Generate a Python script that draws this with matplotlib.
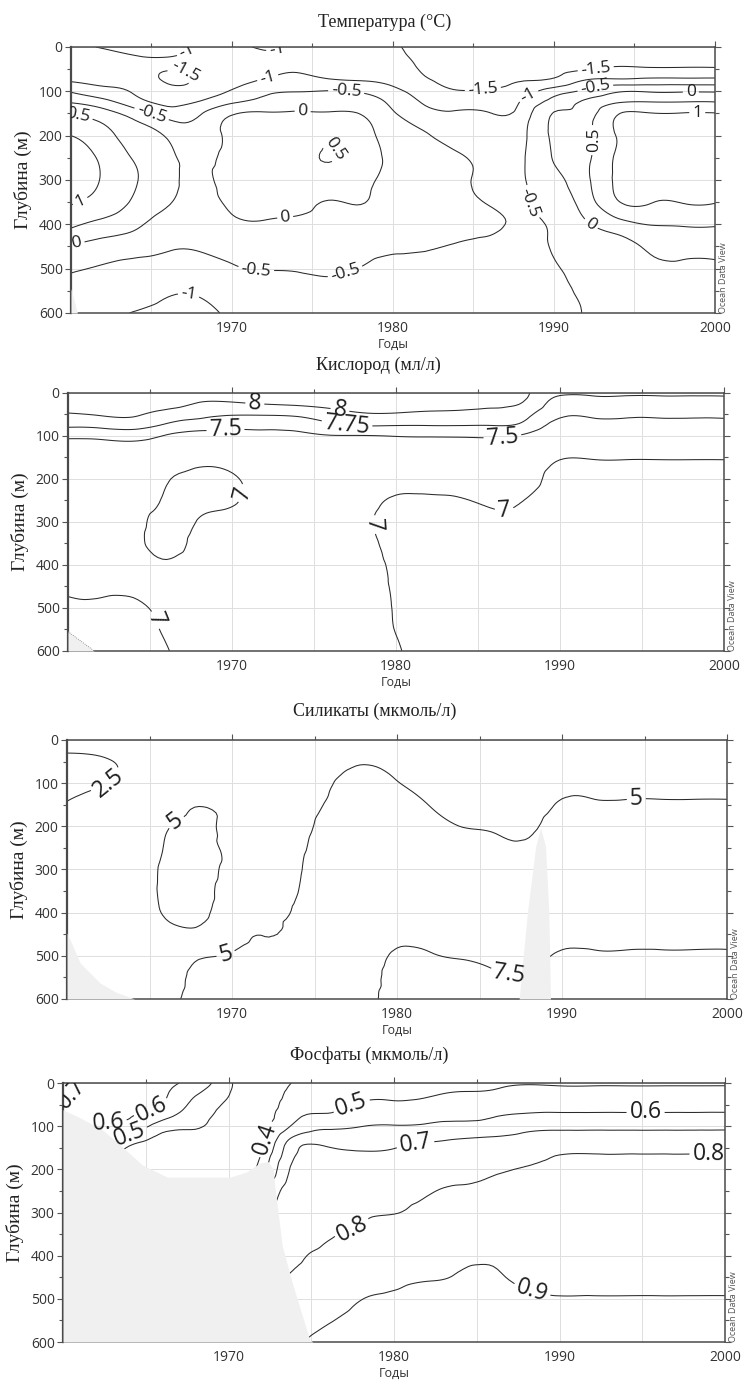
import numpy as np
import matplotlib
matplotlib.use("Agg")
import matplotlib.pyplot as plt
import matplotlib.tri as mtri
import matplotlib.transforms as mtransforms
from matplotlib.ticker import MultipleLocator, FixedLocator

plt.rcParams['font.family'] = ['Open Sans', 'DejaVu Sans']

nan = float('nan')

# grid nodes
years = list(range(1960, 2001, 2))
depths = [0, 25, 50, 75, 100, 125, 150, 200, 250, 300, 350, 400, 450, 500, 550, 600]

# one profile (0..600 m) per year, 1960..2000 step 2
temp_profiles = [
    [-1.1, -1.15, -1.15, -1.05, -0.55, -0.02, 0.45, 1.0, 1.3, 1.35, 1.05, 0.6, -0.05, -0.45, -0.65, -0.8],
    [-0.97, -1.15, -1.2, -1.1, -0.85, -0.3, 0.2, 0.7, 0.9, 0.95, 0.8, 0.35, -0.2, -0.55, -0.75, -0.9],
    [-0.88, -1.05, -1.25, -1.2, -1.05, -0.8, -0.25, 0.25, 0.45, 0.53, 0.42, 0.1, -0.3, -0.65, -0.82, -1.02],
    [-0.85, -1.03, -1.45, -1.55, -1.35, -1.1, -0.75, -0.05, 0.12, 0.15, 0.05, -0.25, -0.45, -0.7, -0.95, -1.1],
    [-1.02, -1.2, -1.4, -1.45, -1.3, -0.95, -0.55, -0.3, -0.15, -0.1, -0.15, -0.3, -0.45, -0.7, -0.95, -1.08],
    [-1.1, -1.25, -1.35, -1.25, -0.95, -0.55, -0.05, 0.15, 0.2, 0.2, 0.1, -0.1, -0.35, -0.55, -0.8, -0.95],
    [-0.95, -1.1, -1.15, -0.95, -0.6, -0.35, 0.05, 0.2, 0.3, 0.3, 0.2, -0.05, -0.3, -0.48, -0.7, -0.88],
    [-1.05, -1.15, -1.05, -0.85, -0.52, -0.2, 0.05, 0.25, 0.35, 0.35, 0.15, -0.1, -0.3, -0.47, -0.7, -0.85],
    [-1.15, -1.2, -1.15, -0.95, -0.48, -0.25, 0.05, 0.45, 0.52, 0.3, -0.02, -0.15, -0.35, -0.45, -0.62, -0.85],
    [-1.3, -1.3, -1.2, -1.02, -0.55, -0.3, -0.02, 0.2, 0.25, 0.15, 0.02, -0.2, -0.4, -0.51, -0.7, -0.85],
    [-1.45, -1.4, -1.3, -1.15, -0.85, -0.6, -0.45, -0.2, -0.1, -0.15, -0.25, -0.35, -0.45, -0.6, -0.72, -0.85],
    [-1.65, -1.6, -1.55, -1.45, -1.25, -1.05, -0.85, -0.45, -0.3, -0.3, -0.35, -0.4, -0.48, -0.6, -0.75, -0.85],
    [-1.75, -1.7, -1.65, -1.6, -1.48, -1.2, -0.95, -0.75, -0.42, -0.42, -0.4, -0.42, -0.52, -0.65, -0.75, -0.85],
    [-1.8, -1.75, -1.7, -1.62, -1.47, -1.3, -0.98, -0.85, -0.7, -0.6, -0.52, -0.46, -0.55, -0.65, -0.75, -0.85],
    [-1.8, -1.75, -1.65, -1.52, -1.25, -0.95, -0.8, -0.62, -0.56, -0.54, -0.53, -0.55, -0.6, -0.68, -0.75, -0.85],
    [-1.7, -1.65, -1.6, -1.42, -0.75, -0.3, 0.02, 0.08, 0.03, -0.15, -0.3, -0.42, -0.45, -0.57, -0.7, -0.8],
    [-1.6, -1.57, -1.52, -0.98, -0.4, 0.1, 0.25, 0.35, 0.4, 0.4, 0.25, -0.05, -0.2, -0.3, -0.38, -0.45],
    [-1.65, -1.6, -1.45, -0.9, -0.05, 0.48, 0.98, 1.05, 1.1, 1.1, 0.98, 0.3, -0.2, -0.3, -0.35, -0.4],
    [-1.7, -1.65, -1.45, -0.85, -0.05, 0.52, 1.02, 1.1, 1.15, 1.15, 1.02, 0.52, 0.1, -0.12, -0.22, -0.3],
    [-1.7, -1.65, -1.45, -0.85, -0.05, 0.52, 1.02, 1.1, 1.15, 1.15, 1.02, 0.55, 0.15, -0.08, -0.2, -0.28],
    [-1.7, -1.65, -1.45, -0.85, -0.05, 0.52, 1.02, 1.1, 1.15, 1.15, 1.02, 0.55, 0.15, -0.08, -0.2, -0.28],
]

oxygen_profiles = [
    [8.25, 8.15, 7.98, 7.8, 7.55, 7.4, 7.3, 7.2, 7.15, 7.12, 7.1, 7.06, 7.03, 6.96, 6.93, 6.9],
    [8.25, 8.15, 8.02, 7.82, 7.57, 7.4, 7.3, 7.2, 7.15, 7.12, 7.1, 7.06, 7.03, 6.97, 6.93, 6.9],
    [8.25, 8.15, 8.03, 7.85, 7.6, 7.42, 7.3, 7.18, 7.1, 7.06, 7.05, 7.05, 7.03, 6.97, 6.93, 6.9],
    [8.25, 8.12, 7.9, 7.72, 7.48, 7.35, 7.22, 7.02, 6.98, 6.95, 6.95, 7.02, 7.06, 7.04, 7.02, 6.99],
    [8.2, 7.98, 7.82, 7.62, 7.4, 7.25, 7.1, 6.94, 6.95, 7.01, 7.05, 7.08, 7.1, 7.08, 7.06, 7.05],
    [8.2, 7.97, 7.77, 7.55, 7.45, 7.3, 7.15, 6.97, 6.98, 7.05, 7.08, 7.1, 7.12, 7.12, 7.1, 7.08],
    [8.2, 8.01, 7.77, 7.56, 7.44, 7.32, 7.22, 7.1, 7.08, 7.08, 7.1, 7.12, 7.14, 7.14, 7.12, 7.1],
    [8.22, 8.04, 7.8, 7.58, 7.45, 7.32, 7.22, 7.12, 7.1, 7.1, 7.1, 7.12, 7.14, 7.14, 7.12, 7.1],
    [8.22, 8.08, 7.9, 7.7, 7.49, 7.38, 7.25, 7.12, 7.1, 7.08, 7.08, 7.08, 7.1, 7.1, 7.1, 7.1],
    [8.2, 8.1, 7.98, 7.77, 7.49, 7.35, 7.25, 7.12, 7.06, 7.03, 7.05, 7.08, 7.1, 7.12, 7.14, 7.16],
    [8.2, 8.1, 7.98, 7.76, 7.51, 7.35, 7.25, 7.08, 6.98, 6.95, 6.95, 6.96, 6.97, 6.98, 6.99, 7.03],
    [8.18, 8.08, 7.96, 7.76, 7.52, 7.35, 7.22, 7.06, 6.98, 6.95, 6.93, 6.92, 6.92, 6.92, 6.93, 6.95],
    [8.16, 8.07, 7.95, 7.76, 7.52, 7.4, 7.25, 7.08, 6.99, 6.95, 6.92, 6.9, 6.9, 6.9, 6.9, 6.9],
    [8.14, 8.05, 7.93, 7.76, 7.53, 7.42, 7.28, 7.12, 7.03, 6.97, 6.93, 6.9, 6.9, 6.9, 6.9, 6.9],
    [8.02, 7.95, 7.8, 7.67, 7.45, 7.33, 7.22, 7.08, 6.99, 6.95, 6.92, 6.9, 6.9, 6.9, 6.9, 6.9],
    [7.82, 7.62, 7.54, 7.4, 7.28, 7.15, 7.02, 6.92, 6.9, 6.88, 6.88, 6.88, 6.88, 6.88, 6.88, 6.88],
    [7.82, 7.62, 7.54, 7.4, 7.28, 7.15, 7.02, 6.92, 6.9, 6.88, 6.88, 6.88, 6.88, 6.88, 6.88, 6.88],
    [7.82, 7.62, 7.54, 7.4, 7.28, 7.15, 7.02, 6.92, 6.9, 6.88, 6.88, 6.88, 6.88, 6.88, 6.88, 6.88],
    [7.82, 7.62, 7.54, 7.4, 7.28, 7.15, 7.02, 6.92, 6.9, 6.88, 6.88, 6.88, 6.88, 6.88, 6.88, 6.88],
    [7.82, 7.62, 7.54, 7.4, 7.28, 7.15, 7.02, 6.92, 6.9, 6.88, 6.88, 6.88, 6.88, 6.88, 6.88, 6.88],
    [7.82, 7.62, 7.54, 7.4, 7.28, 7.15, 7.02, 6.92, 6.9, 6.88, 6.88, 6.88, 6.88, 6.88, 6.88, 6.88],
]

silicate_profiles = [
    [2.9, 2.6, 2.2, 2.1, 2.15, 2.3, 2.6, 3.2, 3.8, 4.2, 4.4, 4.5, 4.6, 4.7, 4.8, 4.9],
    [3.0, 2.7, 2.35, 2.3, 2.4, 2.7, 3.0, 3.5, 3.9, 4.2, 4.4, 4.5, 4.6, 4.7, 4.8, 4.9],
    [3.1, 2.9, 2.7, 2.65, 2.7, 2.9, 3.2, 3.7, 4.1, 4.4, 4.6, 4.7, 4.75, 4.8, 4.85, 4.9],
    [3.2, 3.0, 2.85, 2.8, 2.85, 3.1, 3.5, 4.85, 5.1, 5.2, 5.15, 5.05, 4.9, 4.85, 4.85, 4.9],
    [3.3, 3.1, 3.0, 3.0, 3.2, 3.6, 4.9, 5.3, 5.35, 5.3, 5.2, 5.1, 4.95, 4.98, 5.1, 5.2],
    [3.4, 3.2, 3.1, 3.1, 3.3, 3.7, 4.2, 4.7, 4.85, 4.9, 4.9, 4.9, 4.93, 5.02, 5.15, 5.3],
    [3.5, 3.3, 3.2, 3.25, 3.4, 3.8, 4.2, 4.6, 4.8, 4.85, 4.9, 4.95, 4.99, 5.1, 5.3, 5.5],
    [3.6, 3.4, 3.35, 3.4, 3.6, 3.9, 4.3, 4.7, 4.85, 4.92, 4.99, 5.15, 5.35, 5.6, 5.8, 6.0],
    [3.8, 4.0, 4.3, 4.6, 4.9, 5.1, 5.3, 5.6, 5.8, 6.0, 6.2, 6.4, 6.6, 6.8, 7.0, 7.2],
    [4.2, 4.5, 4.9, 5.2, 5.5, 5.8, 6.0, 6.3, 6.5, 6.7, 6.9, 7.0, 7.1, 7.2, 7.3, 7.4],
    [4.0, 4.3, 4.6, 4.85, 5.05, 5.3, 5.5, 5.9, 6.2, 6.5, 6.8, 7.05, 7.3, 7.6, 7.75, 7.85],
    [3.8, 4.0, 4.2, 4.4, 4.6, 4.8, 4.97, 5.4, 5.8, 6.2, 6.6, 6.95, 7.25, 7.55, 7.75, 7.85],
    [3.7, 3.9, 4.05, 4.2, 4.35, 4.5, 4.65, 4.98, 5.4, 5.8, 6.3, 6.8, 7.15, 7.45, 7.7, 7.85],
    [3.7, 3.85, 4.0, 4.1, 4.25, 4.4, 4.55, 4.85, 5.3, 5.7, 6.2, 6.7, 7.05, 7.3, 7.58, 7.75],
    [3.7, 3.85, 4.0, 4.1, 4.2, 4.35, 4.5, 4.8, 5.2, 5.6, 6.1, 6.6, 7.0, 7.28, 7.55, 7.7],
    [3.9, 4.1, 4.3, 4.5, 4.7, 4.9, 5.1, 5.5, 5.9, 6.3, 6.7, 6.95, 7.2, 7.6, 7.75, 7.85],
    [3.9, 4.1, 4.3, 4.5, 4.7, 4.9, 5.1, 5.5, 5.9, 6.3, 6.7, 6.95, 7.2, 7.6, 7.75, 7.85],
    [3.9, 4.1, 4.3, 4.5, 4.7, 4.9, 5.1, 5.5, 5.9, 6.3, 6.7, 6.95, 7.2, 7.6, 7.75, 7.85],
    [3.9, 4.1, 4.3, 4.5, 4.7, 4.9, 5.1, 5.5, 5.9, 6.3, 6.7, 6.95, 7.2, 7.6, 7.75, 7.85],
    [3.9, 4.1, 4.3, 4.5, 4.7, 4.9, 5.1, 5.5, 5.9, 6.3, 6.7, 6.95, 7.2, 7.6, 7.75, 7.85],
    [3.9, 4.1, 4.3, 4.5, 4.7, 4.9, 5.1, 5.5, 5.9, 6.3, 6.7, 6.95, 7.2, 7.6, 7.75, 7.85],
]

# nan = no data (grey area)
phosphate_profiles = [
    [0.74, 0.72, 0.69, 0.67, 0.66, nan, nan, nan, nan, nan, nan, nan, nan, nan, nan, nan],
    [0.66, 0.655, 0.64, 0.62, 0.59, 0.57, 0.55, nan, nan, nan, nan, nan, nan, nan, nan, nan],
    [0.64, 0.63, 0.62, 0.605, 0.57, 0.48, 0.39, 0.36, 0.35, nan, nan, nan, nan, nan, nan, nan],
    [0.625, 0.615, 0.598, 0.54, 0.45, 0.38, 0.35, 0.33, 0.33, 0.33, nan, nan, nan, nan, nan, nan],
    [0.56, 0.51, 0.47, 0.44, 0.41, 0.37, 0.34, 0.32, 0.32, 0.32, nan, nan, nan, nan, nan, nan],
    [0.42, 0.405, 0.38, 0.36, 0.34, 0.32, 0.31, 0.3, 0.3, 0.3, nan, nan, nan, nan, nan, nan],
    [0.33, 0.33, 0.34, 0.35, 0.36, 0.37, 0.38, 0.45, 0.55, 0.62, 0.68, 0.72, 0.75, nan, nan, nan],
    [0.41, 0.44, 0.46, 0.48, 0.52, 0.61, 0.68, 0.73, 0.76, 0.77, 0.78, 0.79, 0.81, 0.84, 0.87, 0.89],
    [0.44, 0.46, 0.48, 0.51, 0.58, 0.64, 0.705, 0.74, 0.76, 0.775, 0.795, 0.81, 0.83, 0.86, 0.895, 0.92],
    [0.45, 0.48, 0.51, 0.56, 0.598, 0.65, 0.69, 0.74, 0.77, 0.79, 0.81, 0.83, 0.86, 0.898, 0.92, 0.93],
    [0.46, 0.48, 0.515, 0.56, 0.605, 0.66, 0.698, 0.745, 0.78, 0.798, 0.83, 0.86, 0.885, 0.91, 0.93, 0.94],
    [0.47, 0.49, 0.53, 0.575, 0.61, 0.67, 0.72, 0.77, 0.795, 0.82, 0.85, 0.875, 0.895, 0.92, 0.93, 0.94],
    [0.48, 0.505, 0.54, 0.585, 0.62, 0.69, 0.73, 0.78, 0.805, 0.83, 0.86, 0.885, 0.905, 0.92, 0.93, 0.94],
    [0.49, 0.51, 0.55, 0.595, 0.63, 0.702, 0.74, 0.79, 0.815, 0.84, 0.87, 0.89, 0.91, 0.92, 0.93, 0.94],
    [0.495, 0.53, 0.57, 0.61, 0.67, 0.72, 0.755, 0.805, 0.83, 0.85, 0.86, 0.87, 0.88, 0.915, 0.93, 0.94],
    [0.49, 0.53, 0.57, 0.615, 0.68, 0.73, 0.78, 0.815, 0.83, 0.845, 0.855, 0.865, 0.875, 0.905, 0.93, 0.94],
    [0.49, 0.53, 0.57, 0.615, 0.68, 0.73, 0.78, 0.815, 0.83, 0.845, 0.855, 0.865, 0.875, 0.905, 0.93, 0.94],
    [0.49, 0.53, 0.57, 0.615, 0.68, 0.73, 0.78, 0.815, 0.83, 0.845, 0.855, 0.865, 0.875, 0.905, 0.93, 0.94],
    [0.49, 0.53, 0.57, 0.615, 0.68, 0.73, 0.78, 0.815, 0.83, 0.845, 0.855, 0.865, 0.875, 0.905, 0.93, 0.94],
    [0.49, 0.53, 0.57, 0.615, 0.68, 0.73, 0.78, 0.815, 0.83, 0.845, 0.855, 0.865, 0.875, 0.905, 0.93, 0.94],
    [0.49, 0.53, 0.57, 0.615, 0.68, 0.73, 0.78, 0.815, 0.83, 0.845, 0.855, 0.865, 0.875, 0.905, 0.93, 0.94],
]

temp_levels = [-1.5, -1, -0.5, 0, 0.5, 1]
oxygen_levels = [7, 7.5, 7.75, 8]
silicate_levels = [2.5, 5, 7.5]
phosphate_levels = [0.4, 0.5, 0.6, 0.7, 0.8, 0.9]

# grey no-data areas: year and upper depth of the gap
temp_gap_year = [1960, 1960.4]
temp_gap_top = [545, 600]
oxy_gap_year = [1960, 1961.6]
oxy_gap_top = [555, 600]
sil_gap_year = [1960, 1960.8, 1962, 1963, 1964.1]
sil_gap_top = [447, 517, 563, 585, 600]
sil_spike_year = [1987.4, 1987.9, 1988.4, 1988.7, 1989.0, 1989.2, 1989.3]
sil_spike_top = [600, 400, 247, 204, 247, 400, 600]
pho_gap_year = [1960, 1961, 1962.4, 1963.5, 1964.8, 1966.3, 1970.1, 1971.1, 1971.9,
                1972.4, 1972.7, 1972.8, 1973.25, 1973.85, 1974.9, 1975.1]
pho_gap_top = [62, 80, 109, 145, 190, 218, 218, 206, 185, 182, 200, 240, 378, 463, 594, 600]

# where the contour labels sit (year, depth)
temp_label_pos = [(1967.3, 18), (1967.0, 70), (1972.8, 6), (1972.2, 67), (1965.0, 152),
                  (1977.1, 97), (1974.4, 139), (1960.4, 160), (1960.6, 350), (1960.5, 470),
                  (1976.6, 225), (1973.3, 382), (1971.5, 503), (1977.1, 517), (1967.3, 560),
                  (1985.6, 101), (1992.6, 52), (1988.3, 101), (1992.6, 97), (1998.5, 102),
                  (1998.9, 149), (1992.5, 210), (1988.3, 353), (1992.2, 405)]
oxy_label_pos = [(1971.4, 20), (1976.6, 35), (1977.0, 78), (1969.6, 84), (1986.5, 108),
                 (1970.8, 235), (1977.8, 312), (1986.6, 273), (1965.9, 520)]
sil_label_pos = [(1962.3, 89), (1966.5, 185), (1969.6, 493), (1994.5, 135), (1986.7, 565)]
pho_label_pos = [(1960.6, 28), (1965.2, 40), (1962.7, 100), (1964.0, 118), (1972.3, 130),
                 (1977.5, 60), (1995.2, 66), (1981.3, 143), (1977.5, 340), (1999.0, 174),
                 (1988.3, 486)]

GREY = '#eff0ef'
LINE = '#2a2a2a'


def refined_field(profiles):
    z = np.array(profiles, dtype=float).T.ravel()
    X, Y = np.meshgrid(years, depths)
    ny = len(years)
    tris = []
    for r in range(len(depths) - 1):
        for c in range(ny - 1):
            a = r * ny + c
            tris.append([a, a + 1, a + ny + 1])
            tris.append([a, a + ny + 1, a + ny])
    tris = np.array(tris)
    bad = np.isnan(z)[tris].any(axis=1)
    tri = mtri.Triangulation(X.ravel(), Y.ravel(), tris)
    if bad.any():
        tri.set_mask(bad)
    refiner = mtri.UniformTriRefiner(tri)
    return refiner.refine_field(z, subdiv=3)


def panel(rect, title, title_xy, profiles, levels, label_pos, label_size, gaps, dotted=None):
    ax = fig.add_axes(rect)
    ax.set_xlim(1960, 2000)
    ax.set_ylim(600, 0)

    tri_f, z_f = refined_field(profiles)
    cs = ax.tricontour(tri_f, z_f, levels=levels, colors=LINE, linewidths=0.75,
                       linestyles='solid', zorder=2)

    for gx, gtop in gaps:
        ax.fill_between(gx, gtop, 600, color=GREY, lw=0, zorder=3)
    if dotted is not None:
        ax.plot(dotted[0], dotted[1], color='#777777', lw=0.6, ls=(0, (1, 1.5)), zorder=3)

    texts = ax.clabel(cs, fmt=lambda v: f'{v:g}', fontsize=label_size, inline=True,
                      inline_spacing=3, manual=label_pos)
    for t in texts:
        t.set_zorder(5)
        t.set_color('#1e1e1e')

    ax.xaxis.set_major_locator(FixedLocator([1970, 1980, 1990, 2000]))
    ax.xaxis.set_minor_locator(FixedLocator([1965, 1975, 1985, 1995]))
    ax.yaxis.set_major_locator(MultipleLocator(100))
    ax.yaxis.set_minor_locator(MultipleLocator(50))
    ax.grid(which='both', axis='x', color='#dedede', lw=0.7)
    ax.grid(which='major', axis='y', color='#dedede', lw=0.7)
    ax.set_axisbelow(True)
    ax.tick_params(which='both', direction='out', top=True, right=True, bottom=False,
                   color='#555555', width=0.8, labelsize=10, labelcolor='#333333', pad=2)
    ax.tick_params(which='major', length=4)
    ax.tick_params(which='minor', length=3)
    for s in ax.spines.values():
        s.set_color('#4a4a4a')
        s.set_linewidth(1.1)
    ax.spines['left'].set_linewidth(1.6)

    ax.set_xlabel('Годы', fontsize=9, color='#333333', labelpad=1)
    ax.set_ylabel('Глубина (м)', family='Liberation Serif', fontsize=14, color='#222222', labelpad=5)
    fig.text(title_xy[0], title_xy[1], title, ha='center', va='center',
             family='Liberation Serif', fontsize=13, color='#222222')

    off = mtransforms.ScaledTranslation(3 / 72, 0, fig.dpi_scale_trans)
    ax.text(1.0, 0.0, 'Ocean Data View', transform=ax.transAxes + off, rotation=90,
            ha='left', va='bottom', fontsize=6.5, color='#555555')
    return ax


fig = plt.figure(figsize=(7.44, 13.8), dpi=100)

panel([0.0954, 0.7732, 0.8656, 0.1928], 'Температура (°C)', (0.517, 0.984),
      temp_profiles, temp_levels, temp_label_pos, 12.5,
      [(temp_gap_year, temp_gap_top)])
panel([0.0914, 0.5283, 0.8817, 0.1870], 'Кислород (мл/л)', (0.508, 0.7355),
      oxygen_profiles, oxygen_levels, oxy_label_pos, 16.5,
      [(oxy_gap_year, oxy_gap_top)], dotted=(oxy_gap_year, oxy_gap_top))
panel([0.0901, 0.2761, 0.8871, 0.1877], 'Силикаты (мкмоль/л)', (0.503, 0.4848),
      silicate_profiles, silicate_levels, sil_label_pos, 16.5,
      [(sil_gap_year, sil_gap_top), (sil_spike_year, sil_spike_top)])
panel([0.0847, 0.0275, 0.8898, 0.1877], 'Фосфаты (мкмоль/л)', (0.496, 0.2355),
      phosphate_profiles, phosphate_levels, pho_label_pos, 16.5,
      [(pho_gap_year, pho_gap_top)])

fig.savefig('out.png', dpi=100)
